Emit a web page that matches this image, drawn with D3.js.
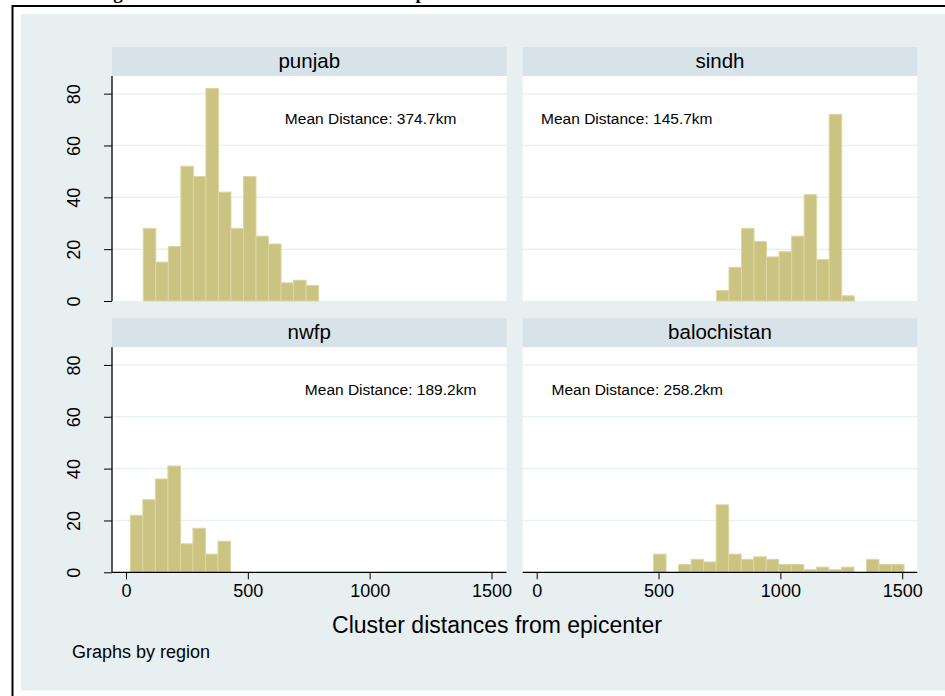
<!DOCTYPE html>
<html>
<head>
<meta charset="utf-8">
<script src="https://cdn.jsdelivr.net/npm/d3@7"></script>
<style>
  html, body { margin: 0; padding: 0; background: #ffffff; }
  svg { display: block; }
  text { font-family: "Liberation Sans", Arial, Helvetica, sans-serif; }
</style>
</head>
<body>
<svg id="chart" width="945" height="696"></svg>
<script>
// ---------------- data ----------------
const regions = ["punjab", "sindh", "nwfp", "balochistan"];
const meanLabels = ["Mean Distance: 374.7km", "Mean Distance: 145.7km", "Mean Distance: 189.2km", "Mean Distance: 258.2km"];
const binStarts = [71, 737.7, 17.8, 479.5];   // left edge of first bin (km)
const binWidth = 51.4;                        // km
const punjabCounts = [28, 15, 21, 52, 48, 82, 42, 28, 48, 25, 22, 7, 8, 6];
const sindhCounts = [4, 13, 28, 23, 17, 19, 25, 41, 16, 72, 2];
const nwfpCounts = [22, 28, 36, 41, 11, 17, 7, 12];
const balochistanCounts = [7, 0, 3, 5, 4, 26, 7, 5, 6, 5, 3, 3, 1, 2, 1, 2, 0, 5, 3, 3];
const countsByRegion = [punjabCounts, sindhCounts, nwfpCounts, balochistanCounts];
const yTicks = [0, 20, 40, 60, 80];
const xTicks = [0, 500, 1000, 1500];
const xTitle = "Cluster distances from epicenter";
const note = "Graphs by region";
const pageTitle = "Histogram of Cluster Distances from the Epicenter";

// ---------------- layout ----------------
const colX = [112, 522.7];
const panelW = 394.5;
const headerTop = [47, 318.3];
const headerH = 29;
const plotH = 225;
const labelAnchor = [[652, 70], [18, 70], [734, 70], [61, 70]]; // data coords of annotation start

const svg = d3.select("#chart");

// page + frame
svg.append("rect").attr("x", 0).attr("y", 0).attr("width", 945).attr("height", 696).attr("fill", "#ffffff");
svg.append("text").attr("x", 70).attr("y", -1)
  .style("font-family", "'Liberation Serif', 'Times New Roman', serif")
  .style("font-weight", "bold").style("font-size", "19px").attr("fill", "#000")
  .text(pageTitle);
svg.append("rect").attr("x", 12.5).attr("y", 6).attr("width", 960).attr("height", 720)
  .attr("fill", "#ffffff").attr("stroke", "#000").attr("stroke-width", 2);
svg.append("rect").attr("x", 21).attr("y", 14).attr("width", 930).attr("height", 676.5)
  .attr("fill", "#e8eff1");

const xDomain = [-57.4, 1561.5];
const yDomain = [0, 86.8];

regions.forEach((name, i) => {
  const col = i % 2, row = Math.floor(i / 2);
  const x0 = colX[col];
  const hTop = headerTop[row];
  const pTop = hTop + headerH;
  const pBot = pTop + plotH;

  const x = d3.scaleLinear().domain(xDomain).range([x0, x0 + panelW]);
  const y = d3.scaleLinear().domain(yDomain).range([pBot, pTop]);

  const g = svg.append("g");

  // header strip
  g.append("rect").attr("x", x0).attr("y", hTop).attr("width", panelW).attr("height", headerH)
    .attr("fill", "#d8e3e9");
  g.append("text").attr("x", x0 + panelW / 2).attr("y", hTop + headerH / 2 + 1)
    .attr("text-anchor", "middle").attr("dominant-baseline", "middle")
    .style("font-size", "20.5px").attr("fill", "#000").text(name);

  // plot area
  g.append("rect").attr("x", x0).attr("y", pTop).attr("width", panelW).attr("height", plotH)
    .attr("fill", "#ffffff");

  // gridlines
  g.selectAll(".grid").data(yTicks.filter(t => t > 0)).enter().append("line")
    .attr("x1", x0).attr("x2", x0 + panelW)
    .attr("y1", d => y(d)).attr("y2", d => y(d))
    .attr("stroke", "#eaf1f3").attr("stroke-width", 1.5);

  // bars
  const counts = countsByRegion[i];
  const bins = counts.map((c, k) => ({ x0: binStarts[i] + k * binWidth, x1: binStarts[i] + (k + 1) * binWidth, c }));
  g.selectAll(".bar").data(bins.filter(b => b.c > 0)).enter().append("rect")
    .attr("x", d => x(d.x0)).attr("width", d => x(d.x1) - x(d.x0))
    .attr("y", d => y(d.c)).attr("height", d => y(0) - y(d.c))
    .attr("fill", "#cac382").attr("stroke", "#dcd6a2").attr("stroke-width", 1);

  // annotation
  g.append("text").attr("x", x(labelAnchor[i][0])).attr("y", y(labelAnchor[i][1]))
    .attr("dominant-baseline", "middle").style("font-size", "15.5px").attr("fill", "#000")
    .text(meanLabels[i]);

  // y axis on left column
  if (col === 0) {
    const yAxis = d3.axisLeft(y).tickValues(yTicks).tickSize(8).tickPadding(0).tickFormat(d3.format("d"));
    const ya = g.append("g").attr("transform", `translate(${x0},0)`).call(yAxis);
    ya.select(".domain").attr("d", `M0,${pTop}V${pBot}`).attr("stroke", "#000").attr("stroke-width", 1.3);
    ya.selectAll(".tick line").attr("stroke", "#000").attr("stroke-width", 1);
    ya.selectAll(".tick text")
      .attr("x", 0).attr("y", 0)
      .attr("transform", "translate(-37,0) rotate(-90)")
      .attr("text-anchor", "middle").attr("dominant-baseline", "middle")
      .style("font-size", "18px").style("font-family", "'Liberation Sans', Arial, sans-serif")
      .attr("fill", "#000").attr("dy", null);
  }

  // x axis on bottom row
  if (row === 1) {
    const xAxis = d3.axisBottom(x).tickValues(xTicks).tickSize(7).tickPadding(5).tickFormat(d3.format("d"));
    const xa = g.append("g").attr("transform", `translate(0,${pBot})`).call(xAxis);
    xa.select(".domain").attr("d", `M${x0},0H${x0 + panelW}`).attr("stroke", "#000").attr("stroke-width", 1.3);
    xa.selectAll(".tick line").attr("stroke", "#000").attr("stroke-width", 1);
    xa.selectAll(".tick text").style("font-size", "18px")
      .style("font-family", "'Liberation Sans', Arial, sans-serif").attr("fill", "#000");
  }
});

// axis title and note
svg.append("text").attr("x", 497).attr("y", 627).attr("text-anchor", "middle")
  .attr("dominant-baseline", "middle").style("font-size", "23px").attr("fill", "#000").text(xTitle);
svg.append("text").attr("x", 72).attr("y", 653).attr("dominant-baseline", "middle")
  .style("font-size", "18px").attr("fill", "#000").text(note);
</script>
</body>
</html>
